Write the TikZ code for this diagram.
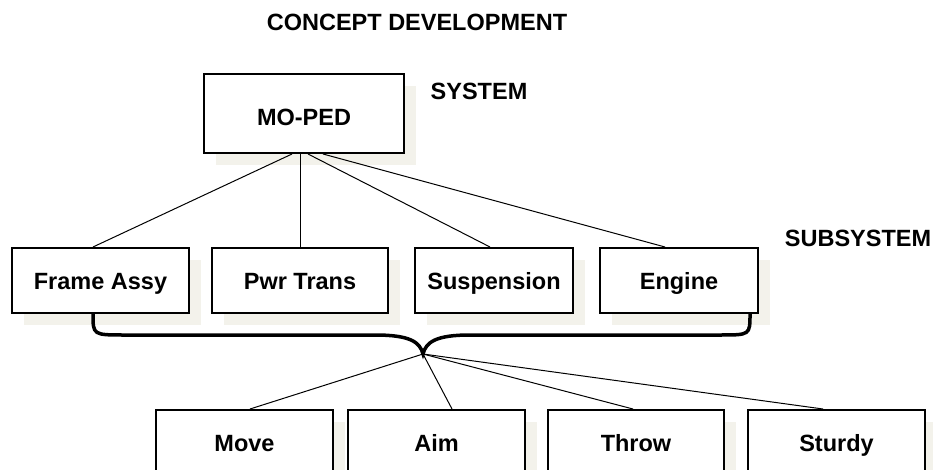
\documentclass[tikz,border=0pt]{standalone}
\usepackage{fontspec}
\setmainfont{Liberation Sans}
\usepackage{tikz}
\usetikzlibrary{shadows}

\definecolor{shadowbeige}{RGB}{243,242,235}

\tikzset{
    block/.style={draw, line width=2pt, fill=white, inner sep=0pt,
        minimum height=65pt, text height=17pt, text depth=0pt,
        font=\fontsize{23.5}{27}\selectfont\bfseries,
        drop shadow={shadow xshift=12pt, shadow yshift=-12pt, fill=shadowbeige, opacity=1}},
    label/.style={inner sep=0pt, text height=17pt, text depth=0pt,
        font=\fontsize{23.5}{27}\selectfont\bfseries},
    link/.style={line width=1pt},
}

\begin{document}
\begin{tikzpicture}[x=1pt, y=-1pt]
    \useasboundingbox (0, 0) rectangle (933, 470);
    \clip (0, 0) rectangle (933, 470);

    \coordinate (T) at (423, 354); % brace tip

    \node[label] (title) at (417, 22) {CONCEPT DEVELOPMENT};
    \node[label] (sys) at (479, 91) {SYSTEM};
    \node[label] (subsys) at (858, 238) {SUBSYSTEM};

    \node[block, minimum width=200pt, minimum height=79pt, text height=25pt] (moped) at (304, 113.5) {MO-PED};

    \node[block, minimum width=177pt] (frame) at (100.5, 280.5) {Frame Assy};
    \node[block, minimum width=176pt] (pwr) at (300, 280.5) {Pwr Trans};
    \node[block, minimum width=158pt] (susp) at (494, 280.5) {Suspension};
    \node[block, minimum width=158pt] (engine) at (679, 280.5) {Engine};

    \node[block, minimum width=177pt] (move) at (244.5, 442.5) {Move};
    \node[block, minimum width=177pt] (aim) at (436.5, 442.5) {Aim};
    \node[block, minimum width=176pt] (throw) at (636, 442.5) {Throw};
    \node[block, minimum width=177pt] (sturdy) at (836.5, 442.5) {Sturdy};

    % system -> subsystems
    \draw[link] ([xshift=-12pt]moped.south) -- ([xshift=-7.5pt]frame.north);
    \draw[link] ([xshift=-4pt]moped.south) -- (pwr.north);
    \draw[link] ([xshift=4pt]moped.south) -- ([xshift=-4pt]susp.north);
    \draw[link] ([xshift=19pt]moped.south) -- ([xshift=-14pt]engine.north);

    % brace under the subsystems
    \draw[line width=3.5pt] ([xshift=-7.5pt]frame.south) .. controls (93, 335) .. (125, 335) -- (375, 335)
        .. controls (410, 335) and (420, 342) .. (T)
        .. controls (426, 342) and (436, 335) .. (470, 335) -- (720, 335)
        .. controls (750, 335) .. ([xshift=71pt]engine.south);

    % brace tip -> functions
    \draw[link] (T) -- ([xshift=5.5pt]move.north);
    \draw[link] (T) -- ([xshift=15.5pt]aim.north);
    \draw[link] (T) -- ([xshift=-3pt]throw.north);
    \draw[link] (T) -- ([xshift=-13.5pt]sturdy.north);
\end{tikzpicture}
\end{document}
